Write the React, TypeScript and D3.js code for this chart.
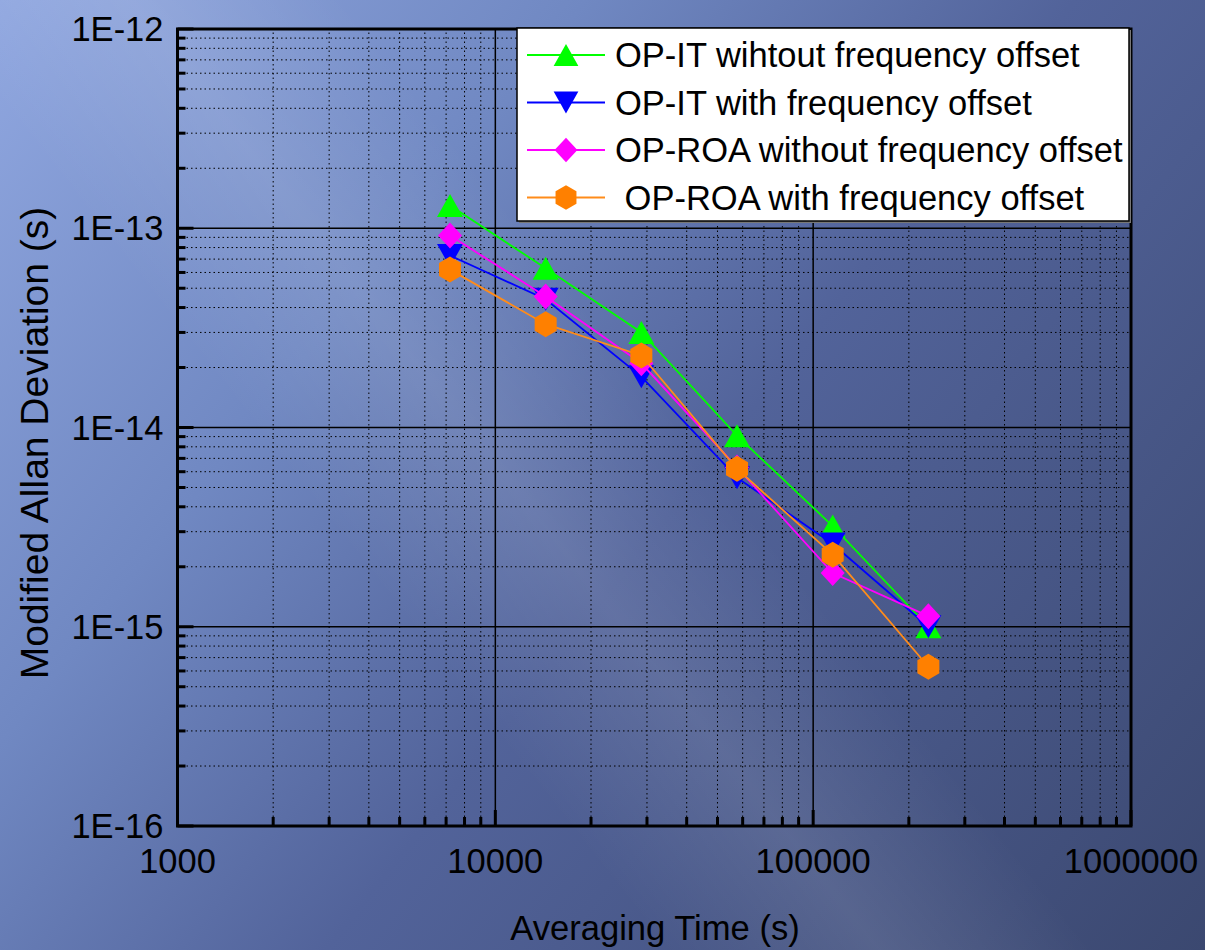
import React from 'react';
import * as d3 from 'd3';

// averaging times (s)
const tau = [7200, 14400, 28800, 57600, 115200, 230400];

// modified Allan deviation (s)
const opItNoOffset = [1.3e-13, 6.3e-14, 3.0e-14, 9.1e-15, 3.2e-15, 1.0e-15];
const opItOffset = [7.3e-14, 4.4e-14, 1.8e-14, 5.6e-15, 2.6e-15, 1.0e-15];
const opRoaNoOffset = [9.2e-14, 4.55e-14, 2.1e-14, 6.3e-15, 1.86e-15, 1.13e-15];
const opRoaOffset = [6.2e-14, 3.3e-14, 2.3e-14, 6.2e-15, 2.3e-15, 6.3e-16];

const seriesNames = [
  'OP-IT wihtout frequency offset',
  'OP-IT with frequency offset',
  'OP-ROA without frequency offset',
  ' OP-ROA with frequency offset',
];

const xTicks = [1e3, 1e4, 1e5, 1e6];
const yTicks = [1e-16, 1e-15, 1e-14, 1e-13, 1e-12];

const W = 1205;
const H = 950;
const margin = {left: 177.5, right: 74, top: 29, bottom: 124};
const font = '"Liberation Sans", Arial, sans-serif';

const markers = {
  up: 'M0,-11.5L13,11.5L-13,11.5Z',
  down: 'M0,11.5L13,-11.5L-13,-11.5Z',
  diamond: 'M0,-13L12,0L0,13L-12,0Z',
  hexagon: 'M0,-13L11,-6.5L11,6.5L0,13L-11,6.5L-11,-6.5Z',
};

const series = [
  {name: seriesNames[0], values: opItNoOffset, color: '#00ff00', line: '#00ff00', marker: markers.up},
  {name: seriesNames[1], values: opItOffset, color: '#0000ff', line: '#0000ff', marker: markers.down},
  {name: seriesNames[2], values: opRoaNoOffset, color: '#ff00ff', line: '#ff00ff', marker: markers.diamond},
  {name: seriesNames[3], values: opRoaOffset, color: '#ff8000', line: '#ff8c1a', marker: markers.hexagon},
];

function minors(lo: number, hi: number) {
  const out: number[] = [];
  for (let d = lo; d < hi; d *= 10) {
    for (let k = 2; k <= 9; k++) out.push(d * k);
  }
  return out;
}

export default function App() {
  const x = d3.scaleLog().domain([1e3, 1e6]).range([margin.left, W - margin.right]);
  const y = d3.scaleLog().domain([1e-16, 1e-12]).range([H - margin.bottom, margin.top]);
  const [x0, x1] = x.range();
  const [y0, y1] = y.range();

  const xMinor = minors(1e3, 1e6);
  const yMinor = minors(1e-16, 1e-12);

  const line = d3.line<number>()
    .x((d, i) => x(tau[i]))
    .y((d) => y(d));

  const legend = {x: 517, y: 28, w: 612, h: 193, row: 47.5};

  return (
    <svg width={W} height={H} style={{position: 'absolute', left: 0, top: 0}}>
      <defs>
        <linearGradient id="bg" x1="0" y1="0" x2={W} y2={H} gradientUnits="userSpaceOnUse">
          <stop offset="0" stopColor="#90a7e0" />
          <stop offset="0.3" stopColor="#7088c2" />
          <stop offset="0.55" stopColor="#52639a" />
          <stop offset="1" stopColor="#3b4870" />
        </linearGradient>
        <linearGradient id="band" x1="0" y1={H} x2={W} y2="0" gradientUnits="userSpaceOnUse">
          <stop offset="0.34" stopColor="#ffffff" stopOpacity="0" />
          <stop offset="0.45" stopColor="#ffffff" stopOpacity="0.1" />
          <stop offset="0.56" stopColor="#ffffff" stopOpacity="0" />
        </linearGradient>
      </defs>
      <rect width={W} height={H} fill="url(#bg)" />
      <rect width={W} height={H} fill="url(#band)" />

      {/* minor grid */}
      {xMinor.map((v) => (
        <line key={'xm' + v} x1={x(v)} x2={x(v)} y1={y0} y2={y1}
          stroke="#000" strokeWidth={1} strokeDasharray="1.5,3" />
      ))}
      {yMinor.map((v) => (
        <line key={'ym' + v} x1={x0} x2={x1} y1={y(v)} y2={y(v)}
          stroke="#000" strokeWidth={1} strokeDasharray="1.5,3" />
      ))}

      {/* major grid */}
      {xTicks.map((v) => (
        <line key={'xg' + v} x1={x(v)} x2={x(v)} y1={y0} y2={y1} stroke="#000" strokeWidth={1.5} />
      ))}
      {yTicks.map((v) => (
        <line key={'yg' + v} x1={x0} x2={x1} y1={y(v)} y2={y(v)} stroke="#000" strokeWidth={1.5} />
      ))}

      {/* ticks */}
      {xMinor.map((v) => (
        <line key={'xt' + v} x1={x(v)} x2={x(v)} y1={y0} y2={y0 - 9} stroke="#000" strokeWidth={3} />
      ))}
      {xTicks.map((v) => (
        <line key={'xT' + v} x1={x(v)} x2={x(v)} y1={y0} y2={y0 - 16} stroke="#000" strokeWidth={3} />
      ))}
      {yMinor.map((v) => (
        <line key={'yt' + v} x1={x0} x2={x0 + 8} y1={y(v)} y2={y(v)} stroke="#000" strokeWidth={3} />
      ))}
      {yTicks.map((v) => (
        <line key={'yT' + v} x1={x0} x2={x0 + 16} y1={y(v)} y2={y(v)} stroke="#000" strokeWidth={3} />
      ))}

      {/* frame */}
      <rect x={x0} y={y1} width={x1 - x0} height={y0 - y1} fill="none" stroke="#000" strokeWidth={3} />

      {/* tick labels */}
      {xTicks.map((v) => (
        <text key={'xl' + v} x={x(v)} y={y0 + 47} textAnchor="middle"
          fontFamily={font} fontSize={34.5} fill="#000">{String(v)}</text>
      ))}
      {yTicks.map((v) => (
        <text key={'yl' + v} x={x0 - 14} y={y(v)} dy="0.35em" textAnchor="end"
          fontFamily={font} fontSize={34.5} fill="#000">{'1E' + Math.round(Math.log10(v))}</text>
      ))}

      {/* axis titles */}
      <text x={655} y={940} textAnchor="middle" fontFamily={font} fontSize={34.6} fill="#000">
        Averaging Time (s)
      </text>
      <text transform={`translate(48, 443) rotate(-90)`} textAnchor="middle"
        fontFamily={font} fontSize={39} fill="#000">
        Modified Allan Deviation (s)
      </text>

      {/* series */}
      {series.map((s) => (
        <g key={s.name}>
          <path d={line(s.values) || ''} fill="none" stroke={s.line} strokeWidth={1.8} />
          {s.values.map((v, i) => (
            <path key={i} d={s.marker} transform={`translate(${x(tau[i])},${y(v)})`} fill={s.color} />
          ))}
        </g>
      ))}

      {/* legend */}
      <rect x={legend.x + 2} y={legend.y + 2} width={legend.w} height={legend.h} fill="#777" />
      <rect x={legend.x} y={legend.y} width={legend.w} height={legend.h} fill="#fff" stroke="#000" strokeWidth={1.5} />
      {series.map((s, i) => {
        const cy = legend.y + 27 + i * legend.row;
        return (
          <g key={'lg' + s.name}>
            <line x1={legend.x + 10} x2={legend.x + 88} y1={cy} y2={cy} stroke={s.line} strokeWidth={1.8} />
            <path d={s.marker} transform={`translate(${legend.x + 49},${cy}) scale(0.95)`} fill={s.color} />
            <text x={legend.x + 98} y={cy} dy="0.35em" fontFamily={font} fontSize={34.5} fill="#000"
              style={{whiteSpace: 'pre'}}>{s.name}</text>
          </g>
        );
      })}
    </svg>
  );
}
